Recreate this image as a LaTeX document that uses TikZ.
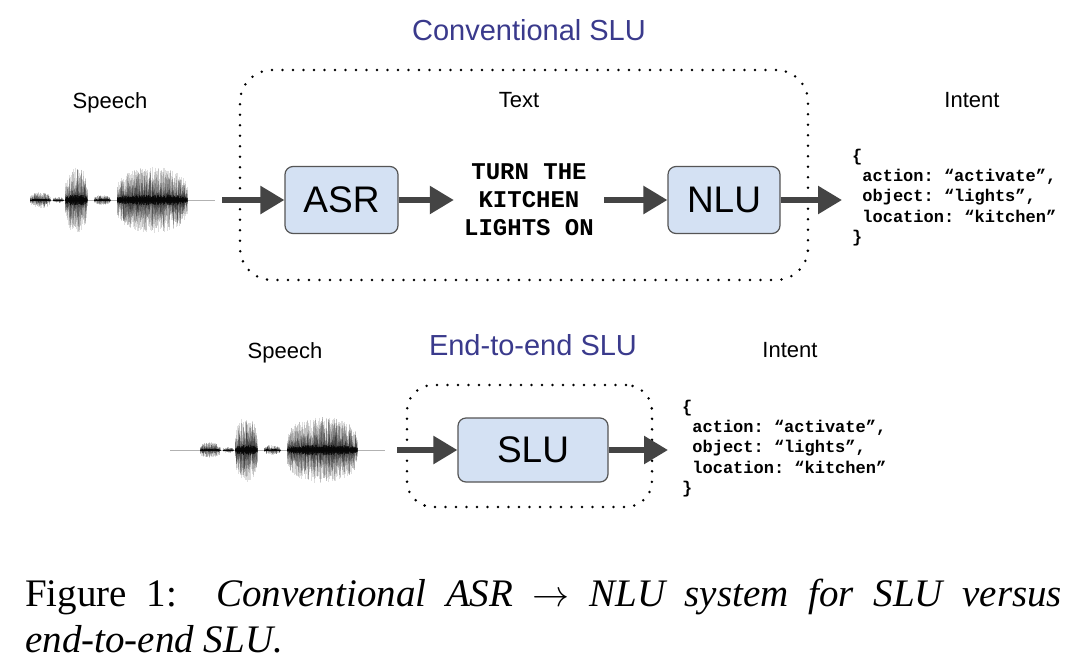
\documentclass[tikz,border=0pt]{standalone}
\usepackage{fontspec}
\usepackage{graphicx}
\setmainfont{Liberation Serif}
\setsansfont{Liberation Sans}
\newfontfamily\codefont{Liberation Mono}
\usetikzlibrary{arrows.meta}
\definecolor{titleblue}{RGB}{58,58,140}
\definecolor{boxfill}{RGB}{212,225,243}
\definecolor{boxline}{RGB}{85,85,85}
\definecolor{arrgray}{RGB}{68,68,68}
\newcommand\msp{\hspace{0.6em}}
\newcommand\drawwave[3]{% x0, y0, faint line start
  \begin{scope}[shift={(#1,#2)}]
    \draw[black!30, line width=0.5pt] (#3,0) -- (185,0);
    \foreach \ssa/\eea/\amp in {0/20/8, 23/33/3, 35/57/33, 64/80/5, 87/157/33}{
      \pgfmathtruncatemacro\nnn{(\eea-\ssa)*2}
      \foreach \kk in {0,...,\nnn}{
        \pgfmathsetmacro\xx{\ssa+\kk/2}
        \pgfmathsetmacro\env{\amp*sqrt(sqrt(0.03+sin(180*(\kk/\nnn))))}
        \foreach \r in {1,2,3,4,5,6}{
          \pgfmathsetmacro\ru{rnd}
          \pgfmathsetmacro\rd{rnd}
          \pgfmathsetmacro\hu{\env*(0.08+0.92*\ru*\ru)}
          \pgfmathsetmacro\hd{\env*(0.08+0.92*\rd*\rd)}
          \draw[black, opacity=0.13, line width=0.55pt] (\xx,-\hu) -- (\xx,\hd);
        }
        \pgfmathsetmacro\hc{\env*(0.05+0.12*rnd)}
        \draw[black, opacity=0.55, line width=0.5pt] (\xx,-\hc) -- (\xx,\hc);
      }
    }
  \end{scope}}
\begin{document}
\begin{tikzpicture}[x=1pt,y=-1pt,
  lbl/.style={font=\sffamily\fontsize{22}{26}\selectfont, inner sep=0pt},
  ttl/.style={font=\sffamily\fontsize{29}{34}\selectfont, text=titleblue, inner sep=0pt},
  blk/.style={draw=boxline, fill=boxfill, line width=1.2pt, rounded corners=8pt,
    font=\sffamily\fontsize{37}{40}\selectfont, inner sep=0pt},
  dotbox/.style={draw=black, line width=2.8pt, dash pattern=on 0pt off 10.5pt, line cap=round, inner sep=0pt},
  arr/.style={draw=arrgray, line width=5.5pt, -{Triangle[length=24pt,width=27pt]}, fill=arrgray},
  json/.style={font=\codefont\bfseries\fontsize{17}{20.3}\selectfont, align=left, inner sep=0pt, anchor=west},
  captxt/.style={font=\fontsize{39}{46}\selectfont, inner sep=0pt, anchor=base west}
]
\useasboundingbox (0,0) rectangle (1078,670);
\fill[white] (0,0) rectangle (1078,670);
\pgfmathsetseed{11}

% ---------- Conventional SLU ----------
\node[ttl] (t1) at (529,30) {Conventional SLU};
\node[dotbox, rounded corners=32pt, minimum width=568pt, minimum height=210pt] (conv) at (524,175) {};
\node[lbl] (sp1) at (110,102.5) {Speech};
\node[lbl] (tx1) at (519,100) {Text};
\node[lbl] (in1) at (972,100) {Intent};

\drawwave{30}{200}{0}
\coordinate (w1) at (222,200);

\node[blk, minimum width=113pt, minimum height=67pt] (asr) at (341.5,200) {ASR};
\node[font=\codefont\bfseries\fontsize{24}{28}\selectfont, align=center, inner xsep=10pt, inner ysep=0pt, text width=130pt] (txt) at (529,200) {TURN\msp THE\\KITCHEN\\LIGHTS\msp ON};
\node[blk, minimum width=112pt, minimum height=67pt] (nlu) at (724,200) {NLU};
\node[json] (j1) at (852,197.5) {\{\\\msp action:\msp“activate”,\\\msp object:\msp“lights”,\\\msp location:\msp“kitchen”\\\}};

\draw[arr] (w1) -- (asr.west);
\draw[arr] (asr.east) -- (txt.west);
\draw[arr] (txt.east) -- (nlu.west);
\draw[arr, shorten >=10pt] (nlu.east) -- (nlu.east -| j1.west);

% ---------- End-to-end SLU ----------
\node[ttl] (t2) at (533,345) {End-to-end SLU};
\node[lbl] (sp2) at (285,352.5) {Speech};
\node[lbl] (in2) at (790,350) {Intent};
\node[dotbox, rounded corners=26pt, minimum width=245pt, minimum height=122pt] (e2e) at (529.5,446) {};

\drawwave{200}{450}{-30}
\coordinate (w2) at (397,450);

\node[blk, minimum width=150pt, minimum height=64pt] (slu) at (533,450) {SLU};
\node[json] (j2) at (682,448.5) {\{\\\msp action:\msp“activate”,\\\msp object:\msp“lights”,\\\msp location:\msp“kitchen”\\\}};

\draw[arr] (w2) -- (slu.west);
\draw[arr, shorten >=14pt] (slu.east) -- (slu.east -| j2.west);

% ---------- Caption ----------
\node[captxt] (c1) at (25,606) {\makebox[1037pt][s]{Figure 1:\ \ \textit{Conventional ASR} \resizebox{37pt}{!}{$\rightarrow$} \textit{NLU system for SLU versus}}};
\node[captxt] (c2) at (25,652) {\textit{end-to-end SLU.}};
\end{tikzpicture}
\end{document}
